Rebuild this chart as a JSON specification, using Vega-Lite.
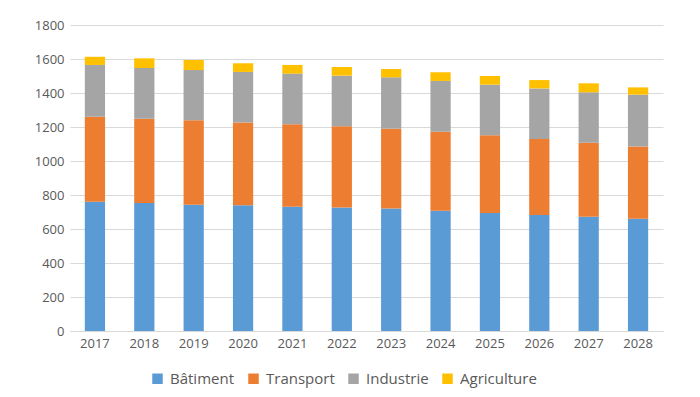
{
  "$schema": "https://vega.github.io/schema/vega-lite/v6.json",
  "width": 593,
  "height": 306,
  "autosize": {"type": "none"},
  "padding": {"left": 70, "top": 25, "right": 37, "bottom": 66},
  "background": "white",
  "data": {
    "values": [
      {"year": "2017", "s": "Bâtiment", "o": 1, "v": 761}, {"year": "2017", "s": "Transport", "o": 2, "v": 500}, {"year": "2017", "s": "Industrie", "o": 3, "v": 304}, {"year": "2017", "s": "Agriculture", "o": 4, "v": 48},
      {"year": "2018", "s": "Bâtiment", "o": 1, "v": 753}, {"year": "2018", "s": "Transport", "o": 2, "v": 496}, {"year": "2018", "s": "Industrie", "o": 3, "v": 298}, {"year": "2018", "s": "Agriculture", "o": 4, "v": 57},
      {"year": "2019", "s": "Bâtiment", "o": 1, "v": 743}, {"year": "2019", "s": "Transport", "o": 2, "v": 496}, {"year": "2019", "s": "Industrie", "o": 3, "v": 296}, {"year": "2019", "s": "Agriculture", "o": 4, "v": 59},
      {"year": "2020", "s": "Bâtiment", "o": 1, "v": 739}, {"year": "2020", "s": "Transport", "o": 2, "v": 488}, {"year": "2020", "s": "Industrie", "o": 3, "v": 297}, {"year": "2020", "s": "Agriculture", "o": 4, "v": 51},
      {"year": "2021", "s": "Bâtiment", "o": 1, "v": 731}, {"year": "2021", "s": "Transport", "o": 2, "v": 485}, {"year": "2021", "s": "Industrie", "o": 3, "v": 298}, {"year": "2021", "s": "Agriculture", "o": 4, "v": 51},
      {"year": "2022", "s": "Bâtiment", "o": 1, "v": 727}, {"year": "2022", "s": "Transport", "o": 2, "v": 477}, {"year": "2022", "s": "Industrie", "o": 3, "v": 298}, {"year": "2022", "s": "Agriculture", "o": 4, "v": 51},
      {"year": "2023", "s": "Bâtiment", "o": 1, "v": 721}, {"year": "2023", "s": "Transport", "o": 2, "v": 469}, {"year": "2023", "s": "Industrie", "o": 3, "v": 302}, {"year": "2023", "s": "Agriculture", "o": 4, "v": 49},
      {"year": "2024", "s": "Bâtiment", "o": 1, "v": 708}, {"year": "2024", "s": "Transport", "o": 2, "v": 464}, {"year": "2024", "s": "Industrie", "o": 3, "v": 299}, {"year": "2024", "s": "Agriculture", "o": 4, "v": 51},
      {"year": "2025", "s": "Bâtiment", "o": 1, "v": 694}, {"year": "2025", "s": "Transport", "o": 2, "v": 457}, {"year": "2025", "s": "Industrie", "o": 3, "v": 298}, {"year": "2025", "s": "Agriculture", "o": 4, "v": 51},
      {"year": "2026", "s": "Bâtiment", "o": 1, "v": 682}, {"year": "2026", "s": "Transport", "o": 2, "v": 447}, {"year": "2026", "s": "Industrie", "o": 3, "v": 298}, {"year": "2026", "s": "Agriculture", "o": 4, "v": 49},
      {"year": "2027", "s": "Bâtiment", "o": 1, "v": 672}, {"year": "2027", "s": "Transport", "o": 2, "v": 436}, {"year": "2027", "s": "Industrie", "o": 3, "v": 296}, {"year": "2027", "s": "Agriculture", "o": 4, "v": 53},
      {"year": "2028", "s": "Bâtiment", "o": 1, "v": 661}, {"year": "2028", "s": "Transport", "o": 2, "v": 425}, {"year": "2028", "s": "Industrie", "o": 3, "v": 304}, {"year": "2028", "s": "Agriculture", "o": 4, "v": 43}
    ]
  },
  "mark": {"type": "bar"},
  "encoding": {
    "x": {
      "field": "year", "type": "ordinal", "title": null,
      "scale": {"paddingInner": 0.59, "paddingOuter": 0.3},
      "axis": {"labelAngle": 0, "ticks": false, "domainColor": "#D9D9D9", "labelColor": "#595959", "labelFont": "Open Sans", "labelFontSize": 13, "labelPadding": 6}
    },
    "y": {
      "field": "v", "type": "quantitative", "aggregate": "sum", "stack": "zero", "title": null,
      "scale": {"domain": [0, 1800], "nice": false},
      "axis": {"values": [0, 200, 400, 600, 800, 1000, 1200, 1400, 1600, 1800], "format": "d", "domain": false, "ticks": false, "gridColor": "#D9D9D9", "labelColor": "#595959", "labelFont": "Open Sans", "labelFontSize": 13, "labelPadding": 6}
    },
    "color": {
      "field": "s", "type": "nominal", "title": null,
      "scale": {"domain": ["Bâtiment", "Transport", "Industrie", "Agriculture"], "range": ["#5B9BD5", "#ED7D31", "#A5A5A5", "#FFC000"]},
      "legend": {"orient": "none", "legendX": 80, "legendY": 346, "direction": "horizontal", "symbolType": "square", "symbolSize": 110, "symbolStrokeWidth": 0, "labelColor": "#595959", "labelFont": "Open Sans", "labelFontSize": 15, "columnPadding": 11, "labelOffset": 5, "symbolOffset": 0}
    },
    "order": {"field": "o", "type": "quantitative", "sort": "ascending"}
  },
  "config": {"view": {"stroke": null}}
}
